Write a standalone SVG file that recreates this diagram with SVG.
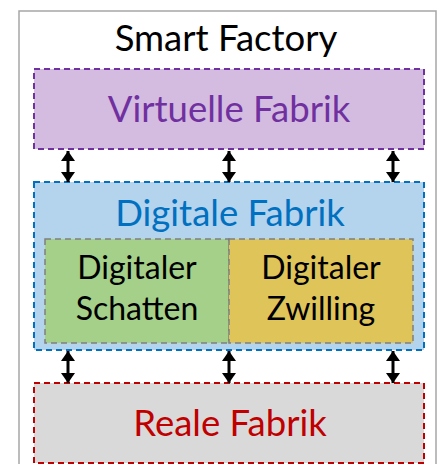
<svg xmlns="http://www.w3.org/2000/svg" width="438" height="464" viewBox="0 0 438 464">
<defs>
<marker id="ah" viewBox="0 0 10 14" refX="10" refY="7" markerWidth="10" markerHeight="14" markerUnits="userSpaceOnUse" orient="auto-start-reverse">
<path d="M0,0 L10,7 L0,14 Z" fill="#000"/>
</marker>
<style>
text{font-family:Lato,"Liberation Sans",sans-serif;text-anchor:middle}
.big{font-size:36.5px}
.small{font-size:32px;fill:#000}
.box{stroke-width:2;stroke-dasharray:6 4}
.inner{stroke:#7f7f7f;stroke-width:1.5;stroke-dasharray:6 4}
.arr{stroke:#000;stroke-width:3;marker-start:url(#ah);marker-end:url(#ah)}
</style>
</defs>
<rect width="438" height="464" fill="#fff"/>
<g id="frame">
<rect x="19" y="11" width="417" height="470" fill="none" stroke="#a6a6a6" stroke-width="1.5"/>
<text x="226" y="51" class="big" fill="#000">Smart Factory</text>
</g>
<g id="virtuelle">
<rect x="34" y="69" width="390" height="80" fill="#d4bbe0" stroke="#7030a0" class="box"/>
<text x="229" y="122" class="big" fill="#7030a0">Virtuelle Fabrik</text>
</g>
<g id="digitale">
<rect x="34" y="182" width="390" height="168" fill="#b4d3ec" stroke="#0070c0" class="box"/>
<text x="230" y="226" class="big" fill="#0070c0">Digitale Fabrik</text>
</g>
<g id="schatten">
<rect x="45" y="239" width="184" height="104" fill="#a4d08a" class="inner"/>
<text x="137" y="279" class="small">Digitaler</text>
<text x="137" y="320" class="small">Schatten</text>
</g>
<g id="zwilling">
<rect x="229" y="239" width="184" height="104" fill="#dfc45a" class="inner"/>
<text x="321" y="279" class="small">Digitaler</text>
<text x="321" y="320" class="small">Zwilling</text>
</g>
<g id="reale">
<rect x="34" y="383" width="390" height="80" fill="#d9d9d9" stroke="#c00000" class="box"/>
<text x="230" y="436" class="big" fill="#c00000">Reale Fabrik</text>
</g>
<g id="connectors">
<line x1="68" y1="151" x2="68" y2="182" class="arr"/>
<line x1="229" y1="151" x2="229" y2="182" class="arr"/>
<line x1="393" y1="151" x2="393" y2="182" class="arr"/>
<line x1="68" y1="351" x2="68" y2="383" class="arr"/>
<line x1="229" y1="351" x2="229" y2="383" class="arr"/>
<line x1="393" y1="351" x2="393" y2="383" class="arr"/>
</g>
</svg>
